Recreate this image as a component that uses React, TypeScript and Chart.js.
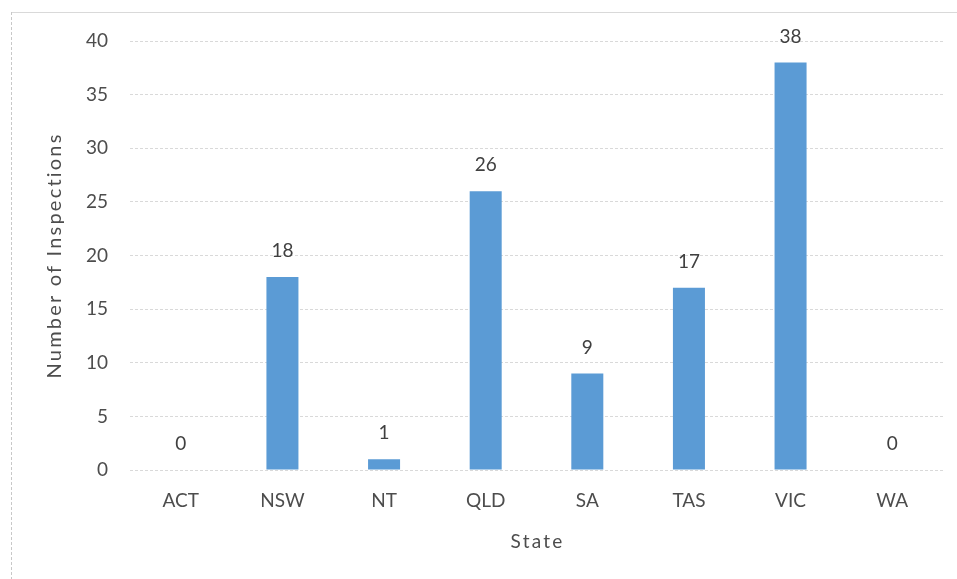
import React, { useEffect, useRef } from "react";
import { Chart, registerables } from "chart.js";

Chart.register(...registerables);

const states = ["ACT", "NSW", "NT", "QLD", "SA", "TAS", "VIC", "WA"];
const inspections = [0, 18, 1, 26, 9, 17, 38, 0];
const yTicks = [0, 5, 10, 15, 20, 25, 30, 35, 40];
const xTitle = "State";
const yTitle = "Number of Inspections";

const FONT = "Lato, 'Open Sans', sans-serif";

const framePlugin = {
  id: "frame",
  beforeDraw(chart: any) {
    const ctx = chart.ctx;
    ctx.save();
    ctx.fillStyle = "#ffffff";
    ctx.fillRect(0, 0, chart.width, chart.height);
    ctx.strokeStyle = "#d9d9d9";
    ctx.lineWidth = 1;
    ctx.beginPath();
    ctx.moveTo(11, 12.5);
    ctx.lineTo(chart.width, 12.5);
    ctx.stroke();
    ctx.strokeStyle = "#c8c8c8";
    ctx.setLineDash([3, 2]);
    ctx.beginPath();
    ctx.moveTo(11.5, 12);
    ctx.lineTo(11.5, chart.height);
    ctx.stroke();
    ctx.restore();
  },
};

const titlePlugin = {
  id: "axisTitles",
  afterDraw(chart: any) {
    const ctx = chart.ctx;
    const area = chart.chartArea;
    ctx.save();
    ctx.fillStyle = "#4d4d4d";
    (ctx as any).letterSpacing = "2.2px";
    ctx.textAlign = "center";
    ctx.textBaseline = "middle";
    ctx.font = `19px ${FONT}`;
    ctx.fillText(xTitle, (area.left + area.right) / 2 + 1, 542);
    ctx.font = `20px ${FONT}`;
    ctx.translate(55, (area.top + area.bottom) / 2);
    ctx.rotate(-Math.PI / 2);
    ctx.fillText(yTitle, 0, 0);
    ctx.restore();
  },
};

const labelPlugin = {
  id: "valueLabels",
  afterDatasetsDraw(chart: any) {
    const ctx = chart.ctx;
    const meta = chart.getDatasetMeta(0);
    const data = chart.data.datasets[0].data;
    ctx.save();
    ctx.fillStyle = "#404040";
    ctx.font = `19px ${FONT}`;
    ctx.textAlign = "center";
    ctx.textBaseline = "middle";
    meta.data.forEach((bar: any, i: number) => {
      ctx.fillText(String(data[i]), bar.x, bar.y - 26);
    });
    ctx.restore();
  },
};

export default function App() {
  const ref = useRef<HTMLCanvasElement>(null);
  useEffect(() => {
    document.body.style.margin = "0";
    const chart = new Chart(ref.current!, {
      type: "bar",
      data: {
        labels: states,
        datasets: [
          {
            data: inspections,
            backgroundColor: "#5b9bd5",
            barPercentage: 1,
            categoryPercentage: 0.315,
          },
        ],
      },
      options: {
        animation: false,
        responsive: false,
        layout: { padding: { left: 0, top: 41, right: 14, bottom: 0 } },
        plugins: { legend: { display: false }, tooltip: { enabled: false } },
        scales: {
          x: {
            grid: { display: false },
            border: { display: false },
            ticks: { color: "#4d4d4d", font: { family: FONT, size: 19 }, padding: 11 },
            afterFit(scale: any) {
              scale.height = 109;
            },
          },
          y: {
            min: 0,
            max: 40,
            afterBuildTicks(scale: any) {
              scale.ticks = yTicks.map((v) => ({ value: v }));
            },
            grid: { color: "#d9d9d9", drawTicks: false },
            border: { display: false, dash: [3, 2] },
            ticks: { color: "#4d4d4d", font: { family: FONT, size: 19 }, padding: 22 },
            afterFit(scale: any) {
              scale.width = 130;
            },
          },
        },
      },
      plugins: [framePlugin, labelPlugin, titlePlugin],
    });
    return () => chart.destroy();
  }, []);
  return (
    <div style={{ position: "absolute", left: 0, top: 0, width: 957, height: 579 }}>
      <canvas ref={ref} width={957} height={579} style={{ display: "block" }} />
    </div>
  );
}
